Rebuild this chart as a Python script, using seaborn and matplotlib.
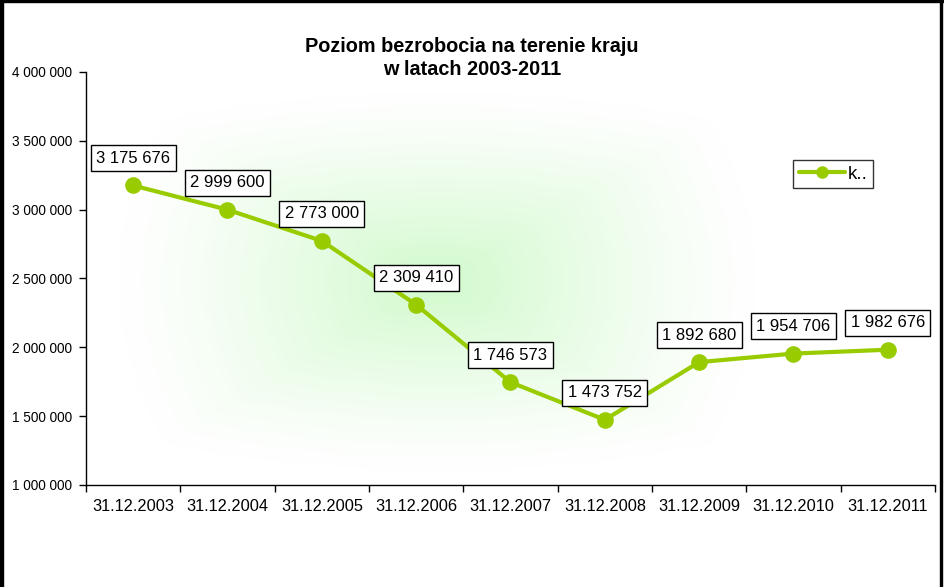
import numpy as np
import pandas as pd
import matplotlib
matplotlib.use("Agg")
import matplotlib.pyplot as plt
import seaborn as sns
from matplotlib.patches import Rectangle
from matplotlib.lines import Line2D

categories = ["31.12.2003", "31.12.2004", "31.12.2005", "31.12.2006", "31.12.2007",
              "31.12.2008", "31.12.2009", "31.12.2010", "31.12.2011"]
values = [3175676, 2999600, 2773000, 2309410, 1746573, 1473752, 1892680, 1954706, 1982676]
series_name = "k.."
title = "Poziom bezrobocia na terenie kraju\nw latach 2003-2011"
yticks = [1000000, 1500000, 2000000, 2500000, 3000000, 3500000, 4000000]

sns.set_style("white")
plt.rcParams['font.family'] = ['Liberation Sans', 'DejaVu Sans']
plt.rcParams['text.color'] = 'black'
plt.rcParams['xtick.color'] = 'black'
plt.rcParams['ytick.color'] = 'black'
plt.rcParams['axes.labelcolor'] = 'black'

W, H = 945, 587
fig = plt.figure(figsize=(W / 100, H / 100), dpi=100)
fig.patch.set_facecolor("white")
ax = fig.add_axes([86 / W, 1 - 485 / H, (935 - 86) / W, (485 - 72) / H])
ax.set_facecolor("white")

df = pd.DataFrame({"x": np.arange(len(categories)), "y": values, "s": series_name})
color = "#99CC00"

# gradient background
gx = np.linspace(-1, 1, 300)
gy = np.linspace(-1, 1, 200)
GX, GY = np.meshgrid(gx, gy)
r = np.clip(np.maximum(np.abs(GX), np.abs(GY)) * 0.6 + np.sqrt(GX**2 + GY**2) * 0.4, 0, 1)
t = (1 - r) ** 1.2
c0 = np.array([1.0, 1.0, 1.0])
c1 = np.array([0.82, 0.98, 0.80])
img = c0[None, None, :] * (1 - t[..., None]) + c1[None, None, :] * t[..., None]
ax.imshow(img, extent=[-0.15, 6.6, 1100000, 3850000], aspect="auto", zorder=0, interpolation="bilinear")

sns.lineplot(data=df, x="x", y="y", hue="s", palette=[color], marker="o", markersize=12,
             markeredgewidth=0, linewidth=3, ax=ax, zorder=3, legend=False)

ax.set_xlim(-0.5, len(categories) - 0.5)
ax.set_ylim(1000000, 4000000)
ax.set_yticks(yticks)
ax.set_yticklabels([f"{v:,}".replace(",", " ") for v in yticks], fontsize=9.8)
ax.set_xticks(np.arange(len(categories) + 1) - 0.5)
ax.set_xticklabels([])
ax.set_xticks(np.arange(len(categories)), minor=True)
ax.set_xticklabels(categories, minor=True, fontsize=11.8)
ax.tick_params(axis="x", which="minor", length=0, pad=10)
ax.tick_params(axis="x", which="major", length=5, width=1, direction="out", color="black", bottom=True)
ax.tick_params(axis="y", length=5, width=1, direction="out", color="black", pad=5, left=True)
for s in ["top", "right"]:
    ax.spines[s].set_visible(False)
for s in ["left", "bottom"]:
    ax.spines[s].set_color("black")
    ax.spines[s].set_linewidth(1)
ax.set_xlabel("")
ax.set_ylabel("")

for i, v in enumerate(values):
    ax.annotate(f"{v:,}".replace(",", " "), (i, v), xytext=(0, 19.5), textcoords="offset points",
                ha="center", va="center", fontsize=12, zorder=5, color="black",
                bbox=dict(boxstyle="square,pad=0.33", fc="white", ec="black", lw=1))

fig.text(472 / W, 1 - 58 / H, title, ha="center", va="center", fontsize=14.3,
         fontweight="bold", linespacing=1.25, color="black")

handle = Line2D([], [], color=color, lw=3, marker="o", markersize=9, markeredgewidth=0)
leg = ax.legend([handle], [series_name], loc="upper left",
                bbox_to_anchor=((793 - 86) / (935 - 86), 1 - (160 - 72) / (485 - 72)),
                frameon=True, fancybox=False, edgecolor="black", fontsize=13.5,
                handlelength=2.5, handletextpad=0.1, borderpad=0.3, borderaxespad=0)
leg.get_frame().set_linewidth(1)

# outer frame
fig.add_artist(Rectangle((0, 0), 3 / W, 1, transform=fig.transFigure, color="black", zorder=10))
fig.add_artist(Rectangle((0, 1 - 2 / H), 1, 2 / H, transform=fig.transFigure, color="black", zorder=10))
fig.add_artist(Rectangle((940 / W, 0), 2 / W, 1, transform=fig.transFigure, color="black", zorder=10))

fig.savefig("out.png", dpi=100)
